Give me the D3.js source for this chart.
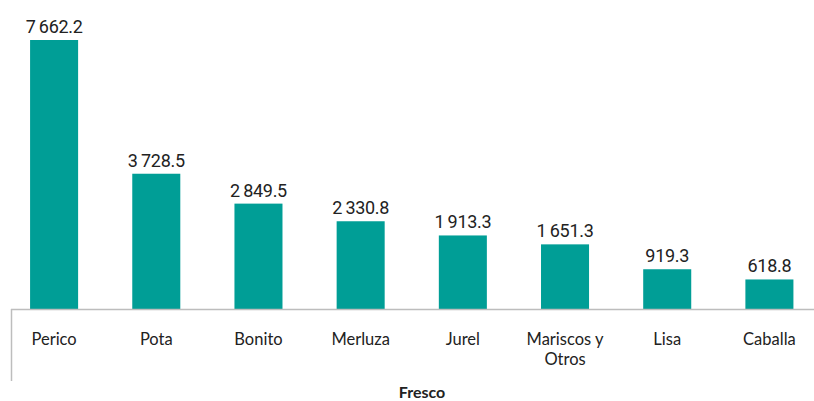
<!DOCTYPE html>
<html>
<head>
<meta charset="utf-8">
<script src="https://cdn.jsdelivr.net/npm/d3@7"></script>
<style>
  body { margin: 0; background: #fff; }
  svg { display: block; }
</style>
</head>
<body>
<svg width="814" height="401"></svg>
<script>
var categories = ["Perico", "Pota", "Bonito", "Merluza", "Jurel", "Mariscos y|Otros", "Lisa", "Caballa"];
var values = [7662.2, 3728.5, 2849.5, 2330.8, 1913.3, 1651.3, 919.3, 618.8];
var groupLabel = "Fresco";

var svg = d3.select("svg");
var baseY = 309;

var x = d3.scaleBand()
    .domain(categories)
    .range([3, 820.5])
    .paddingInner(0.53)
    .paddingOuter(0.265);

var y = d3.scaleLinear()
    .domain([-250, 7662.2])
    .range([baseY, 40]);

var fmt = function(v) { return d3.format(",.1f")(v).replace(/,/g, "\u2009"); };

// bars
svg.selectAll("rect.bar")
    .data(values)
    .enter().append("rect")
    .attr("class", "bar")
    .attr("x", function(d, i) { return x(categories[i]); })
    .attr("width", x.bandwidth())
    .attr("y", function(d) { return y(d); })
    .attr("height", function(d) { return baseY - y(d); })
    .style("fill", "#009e96");

// value labels
svg.selectAll("text.val")
    .data(values)
    .enter().append("text")
    .attr("class", "val")
    .attr("x", function(d, i) { return x(categories[i]) + x.bandwidth() / 2; })
    .attr("y", function(d) { return y(d) - 7; })
    .attr("text-anchor", "middle")
    .style("font-family", "Roboto, sans-serif")
    .style("font-size", "18px")
    .style("letter-spacing", "-0.3px")
    .style("fill", "#222")
    .text(fmt);

// axis lines
svg.append("line")
    .attr("x1", 11).attr("x2", 814)
    .attr("y1", baseY + 0.5).attr("y2", baseY + 0.5)
    .style("stroke", "#bdbdbd").style("stroke-width", 1.5);
svg.append("line")
    .attr("x1", 11.5).attr("x2", 11.5)
    .attr("y1", baseY).attr("y2", 381)
    .style("stroke", "#bdbdbd").style("stroke-width", 1.5);

// category labels, one text per line
categories.forEach(function(d) {
    var cx = x(d) + x.bandwidth() / 2;
    d.split("|").forEach(function(line, k) {
        svg.append("text")
            .attr("class", "cat")
            .attr("x", cx)
            .attr("y", 345 + k * 20)
            .attr("text-anchor", "middle")
            .style("font-family", "Lato, sans-serif")
            .style("font-size", "16.5px")
            .style("fill", "#222")
            .text(line);
    });
});

svg.append("text")
    .attr("x", 422)
    .attr("y", 398)
    .attr("text-anchor", "middle")
    .style("font-family", "Lato, sans-serif")
    .style("font-size", "16px")
    .style("font-weight", "bold")
    .style("fill", "#222")
    .text(groupLabel);
</script>
</body>
</html>
